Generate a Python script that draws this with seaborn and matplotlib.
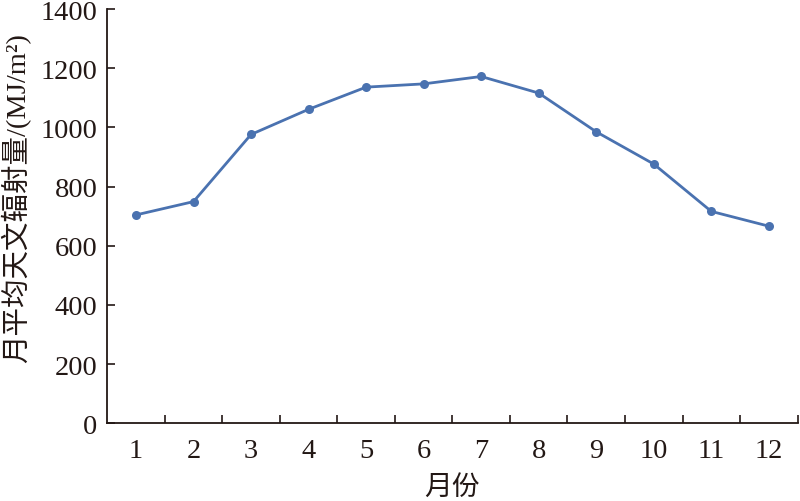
import numpy as np
import pandas as pd
import matplotlib
matplotlib.use('Agg')
import matplotlib.pyplot as plt
import seaborn as sns

# data
months = list(range(1, 13))
radiation = [704, 749, 976, 1061, 1136, 1147, 1172, 1116, 985, 876, 716, 666]

df = pd.DataFrame({'month': months, 'radiation': radiation})

sns.set_theme(style='ticks')
plt.rcParams['font.family'] = ['Liberation Serif', 'Noto Sans CJK SC']
plt.rcParams['axes.unicode_minus'] = False

fig = plt.figure(figsize=(8, 5.02), dpi=100)
ax = fig.add_axes([0.134, 0.155, 0.863, 0.825])

line_color = '#4a72b0'
sns.lineplot(data=df, x='month', y='radiation', ax=ax, color=line_color,
             linewidth=2.0, marker='o', markersize=6.5, markeredgewidth=0)

ax.set_xlim(0.5, 12.5)
ax.set_ylim(0, 1400)
ax.set_yticks(np.arange(0, 1401, 200))

# ticks at category boundaries, labels at the centres
ax.set_xticks(np.arange(1.5, 12.6, 1))
ax.set_xticklabels([])
ax.set_xticks(months, minor=True)
ax.set_xticklabels([str(m) for m in months], minor=True)
ax.tick_params(axis='x', which='major', direction='in', length=6, width=1.2, color='#231815')
ax.tick_params(axis='x', which='minor', length=0, pad=11, labelsize=20.5, labelcolor='#231815')
ax.tick_params(axis='y', direction='in', length=6, width=1.2, color='#231815',
               labelsize=20.5, labelcolor='#231815', pad=7)

for s in ['top', 'right']:
    ax.spines[s].set_visible(False)
for s in ['left', 'bottom']:
    ax.spines[s].set_color('#231815')
    ax.spines[s].set_linewidth(1.3)

ax.set_xlabel('月份', fontsize=20, color='#231815', labelpad=8)
ax.set_ylabel('月平均天文辐射量/(MJ/m²)', fontsize=20.5, color='#231815')
ax.yaxis.set_label_coords(-0.11, 0.545)

fig.savefig('out.png', dpi=100)
